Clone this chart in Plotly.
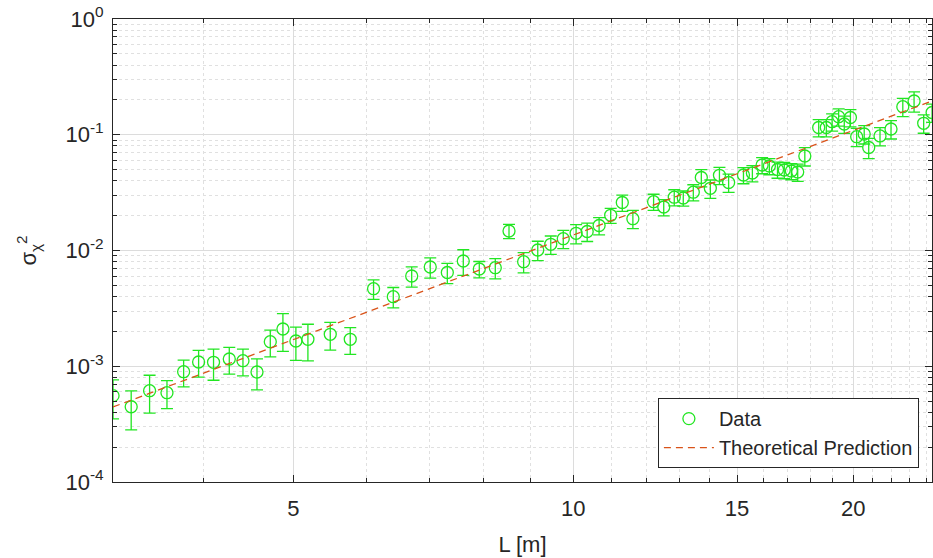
import plotly.graph_objects as go

# Measured variance of the log-amplitude vs. propagation length
L_m = [3.20, 3.347, 3.503, 3.657, 3.811, 3.955, 4.104, 4.267, 4.414, 4.570,
       4.723, 4.873, 5.032, 5.184, 5.479, 5.757, 6.099, 6.404, 6.703, 7.018,
       7.321, 7.616, 7.924, 8.244, 8.529, 8.843, 9.158, 9.458, 9.755, 10.07,
       10.35, 10.66, 10.97, 11.29, 11.59, 12.20, 12.51, 12.84, 13.13, 13.46,
       13.73, 14.04, 14.36, 14.69, 15.24, 15.58, 15.96, 16.25, 16.58, 16.86,
       17.16, 17.43, 17.74, 18.36, 18.71, 18.98, 19.29, 19.56, 19.86, 20.17,
       20.55, 20.78, 21.37, 21.96, 22.61, 23.25, 23.81, 24.31]

sigma2 = [5.57e-4, 4.47e-4, 6.15e-4, 5.91e-4, 8.97e-4, 1.088e-3, 1.082e-3, 1.155e-3, 1.117e-3, 8.92e-4,
          1.630e-3, 2.098e-3, 1.652e-3, 1.709e-3, 1.888e-3, 1.709e-3, 4.677e-3, 3.990e-3, 6.022e-3, 7.203e-3,
          6.454e-3, 8.116e-3, 6.922e-3, 7.102e-3, 1.474e-2, 8.003e-3, 1.010e-2, 1.131e-2, 1.264e-2, 1.408e-2,
          1.459e-2, 1.644e-2, 2.014e-2, 2.598e-2, 1.882e-2, 2.640e-2, 2.375e-2, 2.887e-2, 2.841e-2, 3.189e-2,
          4.273e-2, 3.446e-2, 4.464e-2, 3.869e-2, 4.491e-2, 4.672e-2, 5.479e-2, 5.370e-2, 5.010e-2, 4.961e-2,
          4.863e-2, 4.767e-2, 6.551e-2, 0.1155, 0.1155, 0.1296, 0.1432, 0.1238, 0.1409, 0.0962,
          0.1015, 0.0776, 0.0976, 0.1121, 0.1747, 0.1957, 0.1256, 0.1557]

sigma2_err = [2.06e-4, 1.65e-4, 2.21e-4, 1.60e-4, 2.33e-4, 2.83e-4, 3.25e-4, 3.00e-4, 2.90e-4, 2.68e-4,
              4.24e-4, 7.55e-4, 5.29e-4, 5.98e-4, 5.10e-4, 4.44e-4, 8.9e-4, 8.0e-4, 1.20e-3, 1.44e-3,
              1.29e-3, 2.03e-3, 1.11e-3, 1.42e-3, 2.06e-3, 1.60e-3, 1.92e-3, 2.04e-3, 2.28e-3, 2.68e-3,
              2.63e-3, 2.79e-3, 3.02e-3, 4.16e-3, 3.39e-3, 4.22e-3, 3.80e-3, 4.62e-3, 4.26e-3, 5.10e-3,
              7.26e-3, 6.20e-3, 7.59e-3, 6.96e-3, 7.19e-3, 7.48e-3, 8.77e-3, 8.59e-3, 8.02e-3, 7.94e-3,
              7.78e-3, 8.10e-3, 1.18e-2, 1.96e-2, 1.96e-2, 2.20e-2, 2.43e-2, 2.10e-2, 2.40e-2, 1.73e-2,
              1.83e-2, 1.55e-2, 1.76e-2, 2.02e-2, 3.14e-2, 3.91e-2, 2.26e-2, 2.80e-2]

# Theoretical prediction (straight line in log-log)
L_theory = [3.20, 10.0, 24.31]
sigma2_theory = [4.45e-4, 1.36e-2, 0.196]

x_ticks = [5, 10, 15, 20]
x_ticklabels = ["5", "10", "15", "20"]
x_minor = [4, 6, 7, 8, 9, 11, 12, 13, 14, 16, 17, 18, 19, 21, 22, 23, 24]
y_ticks = [1e-4, 1e-3, 1e-2, 1e-1, 1]
y_ticklabels = ["10<sup>-4</sup>", "10<sup>-3</sup>", "10<sup>-2</sup>", "10<sup>-1</sup>", "10<sup>0</sup>"]
y_minor = [k * 10.0 ** e for e in range(-4, 0) for k in range(2, 10)]

GREEN = "#22e622"
ORANGE = "#d95319"
AX = "#262626"
FONT = "Liberation Sans, Arial, sans-serif"

fig = go.Figure()
fig.add_trace(go.Scatter(
    x=L_m, y=sigma2, mode="markers", name="Data",
    marker=dict(symbol="circle-open", size=12, color=GREEN, line=dict(width=1.3, color=GREEN)),
    error_y=dict(type="data", array=sigma2_err, visible=True, color=GREEN, thickness=1.3, width=6),
))
fig.add_trace(go.Scatter(
    x=L_theory, y=sigma2_theory, mode="lines", name="Theoretical Prediction",
    line=dict(color=ORANGE, width=1.3, dash="7px,5px"),
))

axis_common = dict(
    type="log", showline=True, linecolor=AX, linewidth=1, mirror="ticks",
    ticks="inside", ticklen=7, tickcolor=AX, tickwidth=1,
    showgrid=True, gridcolor="#dcdcdc", gridwidth=1, zeroline=False,
    tickfont=dict(family=FONT, size=22, color=AX),
)

fig.update_xaxes(
    **axis_common,
    range=[0.5051, 1.3857],
    tickmode="array", tickvals=x_ticks, ticktext=x_ticklabels,
    ticklabelstandoff=7,
    minor=dict(tickmode="array", tickvals=x_minor, ticks="inside", ticklen=4,
               tickcolor=AX, showgrid=True, gridcolor="#e0e0e0", griddash="dot", gridwidth=1),
    title=dict(text="L [m]", font=dict(family=FONT, size=22, color=AX), standoff=16),
)
fig.update_yaxes(
    **axis_common,
    range=[-4, 0],
    tickmode="array", tickvals=y_ticks, ticktext=y_ticklabels,
    ticklabelstandoff=4,
    minor=dict(tickmode="array", tickvals=y_minor, ticks="inside", ticklen=4,
               tickcolor=AX, showgrid=True, gridcolor="#e0e0e0", griddash="dot", gridwidth=1),
    title=dict(text="σ<sub>χ</sub><sup>2</sup>", font=dict(family=FONT, size=22, color=AX), standoff=22),
)

fig.update_layout(
    width=933, height=558,
    margin=dict(l=113, r=1, t=19, b=76),
    paper_bgcolor="white", plot_bgcolor="white",
    font=dict(family=FONT, size=22, color=AX),
    showlegend=True,
    legend=dict(
        x=0.984, y=0.03, xanchor="right", yanchor="bottom",
        bgcolor="white", bordercolor=AX, borderwidth=1,
        font=dict(family=FONT, size=20, color=AX),
        itemwidth=50, tracegroupgap=0,
    ),
)

fig.write_html("out.html")
